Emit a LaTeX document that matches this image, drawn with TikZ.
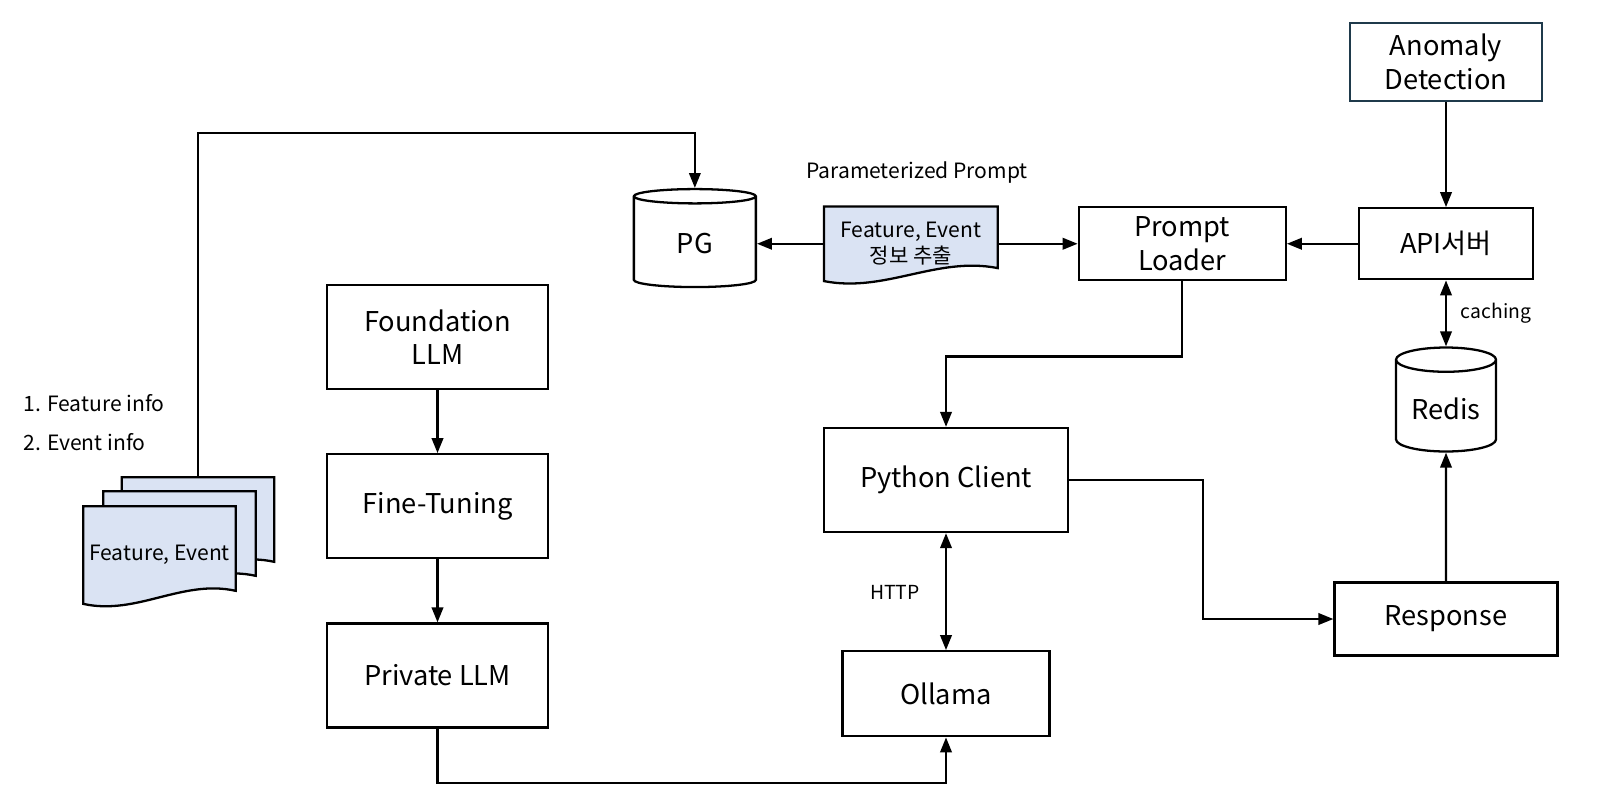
\documentclass[tikz,border=0pt]{standalone}
\usepackage{fontspec}
\setmainfont{Noto Sans CJK KR}
\usetikzlibrary{positioning,shapes.geometric,arrows.meta,calc,backgrounds}

\definecolor{docblue}{HTML}{DAE3F3}
\definecolor{slate}{HTML}{1F3A4B}

\tikzset{
  box/.style={draw, line width=1.3pt, rectangle, align=center, inner sep=2pt, font=\fontsize{15.5}{19}\selectfont},
  db/.style={draw, line width=1.3pt, cylinder, shape border rotate=90, aspect=0.3, font=\fontsize{15.5}{19}\selectfont},
  doc/.style={rectangle, align=center, inner sep=2pt, font=\fontsize{12}{14.5}\selectfont},
  lbl/.style={inner sep=0pt, font=\fontsize{11}{14}\selectfont},
  edge/.style={line width=1.3pt, -{Triangle[length=8.5pt,width=6.5pt]}},
  bothway/.style={line width=1.3pt, {Triangle[length=8.5pt,width=6.5pt]}-{Triangle[length=8.5pt,width=6.5pt]}},
}
\newcommand{\docshape}[1]{%
  \begin{scope}[on background layer]
  \draw[line width=1.3pt, fill=docblue] (#1.south west) -- (#1.north west) -- (#1.north east)
    -- ($(#1.south east)+(0,-13)$)
    .. controls ($(#1.south west)!0.65!(#1.south east)+(0,-25)$) and ($(#1.south west)!0.35!(#1.south east)+(0,12)$) .. (#1.south west) -- cycle;
  \end{scope}}

\begin{document}
\begin{tikzpicture}[x=0.02cm, y=-0.02cm, node distance=1.26cm]
  \useasboundingbox (0,0) rectangle (1598,798);

  \node[box, draw=slate, minimum width=3.84cm, minimum height=1.56cm] (anomaly) at (1446,62) {Anomaly\\Detection};
  \node[box, minimum width=3.48cm, minimum height=1.42cm, below=2.1cm of anomaly] (api) {API서버};
  \node[box, minimum width=4.14cm, minimum height=1.46cm, left=1.42cm of api] (loader) {Prompt\\Loader};
  \node[doc, minimum width=3.46cm, minimum height=1.48cm, left=1.6cm of loader] (extract) {Feature, Event\\정보 추출};
  \node[db, minimum width=2.44cm, minimum height=1.96cm, left=1.34cm of extract] (pg) {PG};
  \node[lbl, font=\fontsize{12}{15}\selectfont] (param) at (917,173) {Parameterized Prompt};

  \node[db, minimum width=2cm, minimum height=2.08cm, below=1.32cm of api] (redis) {Redis};
  \node[lbl] (caching) at (1496,313) {caching};
  \node[box, minimum width=4.46cm, minimum height=1.46cm] (response) at (1446,619) {Response};

  \node[box, minimum width=4.88cm, minimum height=2.08cm] (python) at (946,480) {Python Client};
  \node[box, minimum width=4.14cm, minimum height=1.7cm, below=2.34cm of python] (ollama) {Ollama};
  \node[lbl] (http) at (895,592) {HTTP};

  \node[box, minimum width=4.42cm, minimum height=2.08cm] (foundation) at (437.5,337) {Foundation\\LLM};
  \node[box, minimum width=4.42cm, minimum height=2.08cm, below=of foundation] (finetune) {Fine-Tuning};
  \node[box, minimum width=4.42cm, minimum height=2.08cm, below=of finetune] (private) {Private LLM};

  \node[lbl, anchor=west, font=\fontsize{12}{15}\selectfont] (info1) at (23,403) {1. Feature info};
  \node[lbl, anchor=west, font=\fontsize{12}{15}\selectfont] (info2) at (23,442) {2. Event info};
  \node[doc, minimum width=3.04cm, minimum height=1.94cm] (featC) at (198,526) {};
  \node[doc, minimum width=3.04cm, minimum height=1.94cm] (featB) at (179.5,540) {};
  \node[doc, minimum width=3.04cm, minimum height=1.94cm] (featA) at (159.5,555) {Feature, Event};

  \docshape{featC}
  \docshape{featB}
  \docshape{featA}
  \docshape{extract}

  \draw[edge] (anomaly) -- (api);
  \draw[edge] (api) -- (loader);
  \draw[edge] (extract) -- (loader);
  \draw[edge] (extract.west) -- (extract.west -| pg.east);
  \draw[bothway] (api) -- (redis);
  \draw[edge] (response) -- (redis);
  \draw[edge] (loader.south) -- ++(0,75) -| (python.north);
  \draw[edge] (python.east) -- ++(134,0) |- (response.west);
  \draw[bothway] (python) -- (ollama);
  \draw[edge] (foundation) -- (finetune);
  \draw[edge] (finetune) -- (private);
  \draw[edge] (private.south) -- ++(0,54) -| (ollama.south);
  \draw[edge] (featC.north) -- ++(0,-344) -| (pg.north);
\end{tikzpicture}
\end{document}
